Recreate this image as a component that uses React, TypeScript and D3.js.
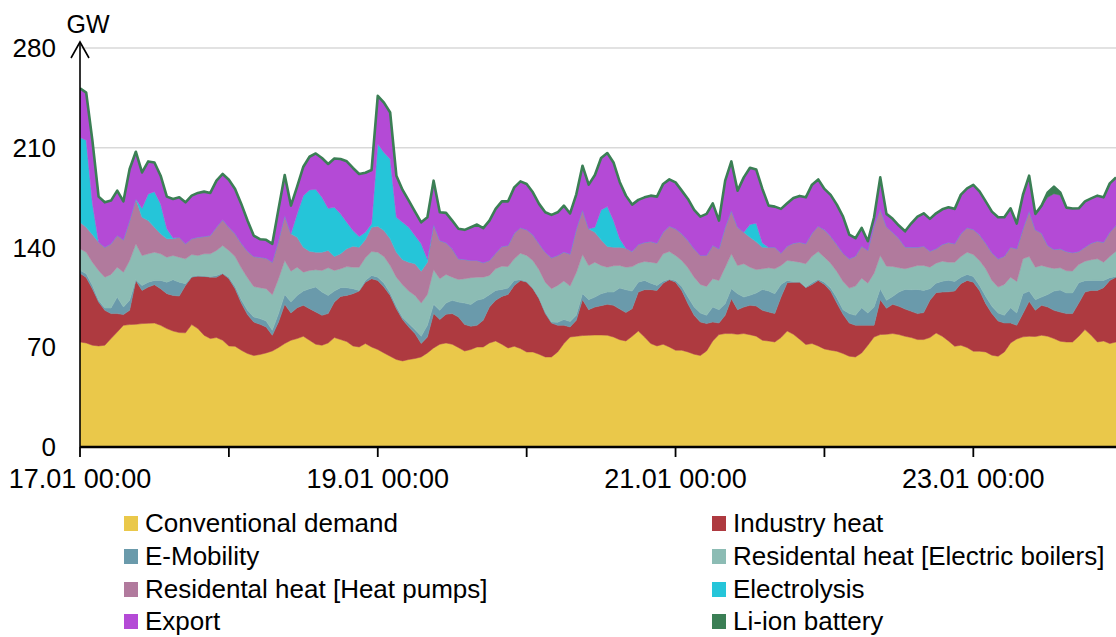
import React from "react";
import * as d3 from "d3";

const seriesNames = [
  "Conventional demand",
  "Industry heat",
  "E-Mobility",
  "Residental heat [Electric boilers]",
  "Residental heat [Heat pumps]",
  "Electrolysis",
  "Export",
  "Li-ion battery",
];
const seriesColors = ["#eac84a", "#ae3a40", "#6a9aab", "#8cbcb4", "#b17a9d", "#25c5d9", "#b44ad6", "#3b7f55"];

// hourly values in GW, 17.01 00:00 .. 23.01 23:00
const conventional = [
  73.7,73,71.4,70.9,71.4,76.1,80.7,85.4,85.9,86.1,
  86.6,86.8,87,85.4,83.1,81.4,80.3,80.1,85.9,83.1,
  78.4,76.1,76.8,74.9,70.9,70.7,67.9,65.6,64.2,64.9,
  66,67.4,69.8,72.6,74.9,76.1,77.7,74.9,72.1,71.4,
  73,76.8,75.4,74,70.9,70.2,72.6,70.2,68.4,66,
  63.7,61.4,60.4,61.4,62.1,63.2,66,69.5,72.1,73,
  72.1,69.8,67.4,68.4,70.2,70.2,73,74.4,72.1,69.5,
  70.7,69.1,66.7,66.7,65.1,63.2,63.2,66.7,72.6,77.2,
  77.7,78.2,78.4,78.6,78.6,78.4,77.2,75.3,74.4,77.7,
  81.4,77.2,72.6,70.9,72.1,70.2,67.9,67.9,66.7,65.1,
  64.2,67.4,74.4,78.9,79.6,79.6,79.1,79.6,78.8,77.8,
  74.9,74.4,73.7,76.8,81.4,79.1,75.6,71.9,72.6,70.9,
  68.8,67.9,67.2,65.6,63.7,63.2,66,71.4,77.2,78.9,
  79.1,79.6,78.9,77.7,76.8,75.4,75.4,76.8,80,77.7,
  74.4,70.7,71.4,69.8,67.2,67.2,66.7,64.4,63.7,66.7,
  73,75.8,77.3,77.7,77.5,78.4,77.7,76.1,74.2,73.7,
  73.7,77.7,82.4,78.4,73.7,74.4,72.6,73.7,
];
const industryHeat = [
  48.3,46,39.6,30.8,24.5,17.5,12.9,7.5,10,30.8,
  23.3,25.4,26.9,25.7,24.5,25,25.6,33.3,33.3,36.8,
  41.3,43.1,42.4,46.7,47.2,40.4,33.1,27.3,23.5,21.2,
  18.2,11,17.9,27.5,19.1,21.7,21.7,22.2,22.6,21,
  20.6,24.9,30.3,32.4,36.7,39.2,43.1,47.9,48.5,46.2,
  42.7,35.7,29,22.8,17.5,9.4,11.2,24.1,17.3,20.1,
  21.5,21.4,18.6,16.3,15.2,18.8,25.2,28.5,33.6,37.6,
  42.7,47.8,49,44.4,39,30.4,23.8,18.7,12.8,7,
  11.2,25.2,18,19.6,20.6,21.7,22.2,21.5,19.9,19.4,
  27.3,33.2,37.8,39,42.9,47.2,47.8,42,33.9,27.3,
  23.5,19.2,13.3,8.1,12.8,24.5,17.3,18.6,20.6,21.2,
  21,20.3,19.9,28.4,33.9,36.6,40.1,39.9,41.5,46,
  45.3,41.5,33.8,27.5,23.3,22.2,19.4,14,8.2,24.5,
  18.2,20.5,19.8,19.1,18.4,18.2,18.9,26.1,28.3,31,
  34.5,38.7,43.2,47.1,48.5,42.7,33.9,29.2,24.7,20.3,
  14,9.6,16.3,24.5,18.4,21,20.5,19.8,20.5,19.9,
  19.9,23.3,26.3,31.5,36.2,37.4,44.3,45.5,
];
const eMobility = [
  2,2.5,2.4,1.2,1.6,3.9,11.6,5.3,7,0.5,
  3.5,3.5,3,5.8,8.1,11,9.8,1.2,0.4,0.5,
  0.3,0.3,1.2,0.4,1.1,1.6,2.4,3,3.5,4,
  4.2,3.5,5.9,7,7.7,8.6,10,14,17.5,16.3,
  12.8,7.7,6.1,5.4,3.5,0.5,1.2,2.3,2.3,2.8,
  1.6,1.6,1.4,2.4,2.8,5.1,8.2,6.5,6.5,7.9,
  9.3,10.5,15,15.3,17.6,15,8.7,7,4.9,4.4,
  3.5,0.5,0.5,0.5,0.5,1.1,0.7,2.1,4.1,3.8,
  3.6,4.2,7,7,8.4,8.6,9.3,14.8,16.1,12.3,
  7,6.5,4.6,3.5,1.4,0.4,1.2,2.8,4.6,5.8,
  6.3,5.8,10.5,9.4,8.2,7,11.2,7,7.1,9,
  14.7,14.7,14,8.9,1.6,0.2,0.3,0.4,1.2,0.9,
  1.6,2.1,3.8,3.3,6.6,7,12.4,8.6,12.8,7.7,
  5.6,5.6,10,13.8,15.2,17,15.6,8.2,6.7,7.7,
  8.2,6.8,4.6,4.2,4,3.5,5.1,5.1,5.6,5.4,
  10.8,8.6,14,7.2,7.5,5.8,8.9,13.5,15.5,14.5,
  14.5,14.3,8,7,7,5.1,1.9,0.4,
];
const electricBoilers = [
  15.1,15.2,16.3,21,21.7,23.6,21,24.5,28,25.2,
  21,19.9,19.8,18.7,17.5,17,17.5,17.5,15.5,14,
  15.6,16.1,17.5,19.4,18.7,21,22.4,22.9,21.5,21.7,
  22.7,25,24.5,23.8,21.7,19.8,13.3,12.8,12.2,15.2,
  19.4,14.5,13.3,14.8,15.1,16.3,15.9,16.8,17.5,18.7,
  19.4,20.5,23.1,22.8,24,23.3,21.7,24.3,22.2,20.1,
  16.3,15.9,17.1,18.8,16.2,15.2,13.5,15.2,16.3,15.1,
  15.2,18.6,18.2,19.3,19.8,21,23.4,25.9,27,25,
  30,27.5,24,24.5,19.8,17.5,18.5,15.8,15.8,17.2,
  13.3,13.3,14.7,15.6,19.2,19.4,17.5,18.2,20.6,21,
  20.1,20.3,19.9,20.5,25.6,24.5,19.8,23.4,19.7,16.5,
  14.5,16.4,17.5,13.3,14,14.5,13.7,16.4,18.6,19.4,
  17.5,17.5,18.4,19.8,17.9,20.5,20.7,21,23.8,23.3,
  24,21,17.1,14.5,15.8,16.8,17.5,15.1,14,14,
  12.6,13.5,14.5,15.6,15.4,17.5,19.4,18.2,18.2,21.7,
  21.4,22.2,24.5,24.3,22.8,22.2,19.1,15.9,15.6,15.6,
  15.4,12.8,13.7,14.5,15.2,12.8,14.9,17.8,
];
const heatPumps = [
  18.6,17.5,19.4,19.8,21,21.5,22.2,22.7,28,31.5,
  26.8,23.3,17.5,14,12.9,11.7,14,10.5,11,12.8,
  12.1,12.8,16.3,18,16.3,15.9,17.2,18.6,21,21.4,
  21.4,22.8,26.8,31.5,26.2,21,17.5,13.5,12.3,12.8,
  12.1,9.8,10.5,12.6,14.7,14,12.6,17,18.2,18.2,
  18.7,17.5,17.5,20.3,22.2,22.4,22.6,31.7,26.8,22.2,
  19.9,14.5,13.5,12.1,11.7,10.1,10.5,10.9,13.8,14.8,
  17.9,17.8,18,18,18.2,21,21.7,21,20.3,22.4,
  30.3,31.3,25.7,21,18,14.5,13,12.8,13.3,10.6,
  13.1,13.3,14.5,14,15.1,17.7,18.7,18.7,19.1,19.9,
  20.3,21.7,23.3,22.2,28,30.3,26.8,22.1,21,19.5,
  15.1,14.4,15.1,8.6,10,12.6,14,14,16.1,17.7,
  19.2,18.9,18.9,19.8,20.6,21,22.4,22.9,33.4,32.7,
  27.7,23.9,20.6,15.3,14,12.8,13.5,11.2,10.1,11.7,
  13.8,12.9,15.9,17.1,17.5,18,17.9,19.4,19.9,19.8,
  21,22.9,20.9,31.7,26.2,22.6,15.2,13.3,13.3,13.5,
  12.9,9.1,9.8,11.6,12.3,14,17,18,
];
const electrolysis = [
  59.5,61,22,0,0,0,0,0,0,0,
  6.3,18.7,25,21,7,0.5,0,0,0,0,
  0,0,0,0,0,0,0,0,0,0,
  0,0,0,0,0,16.4,36.2,43,44.1,38.5,
  29.6,34.5,28,18.6,11,7.5,5.3,2.4,57.7,54.8,
  56,24.5,26.3,24.5,19.8,19.2,2,0,0,0,
  0,0,0,0,0,0,0,0,0,0,
  0,0,0,0,0,0,0,0,0,0,
  0,0,0,3.5,21,28,18.7,6,0,0,
  0,0,0,0,0,0,0,0,0,0,
  0,0,0,0,0,0,0,0,9,13,
  3,0,0,0,0,0,0,0,0,0,
  0,0,0,0,0,0,0,0,0,0,
  0,0,0,0,0,0,0,0,0,0,
  0,0,0,0,0,0,0,0,0,0,
  0,0,0,0,0,0,0,0,0,0,
  0,0,0,0,0,0,0,0,
];
const exportFlow = [
  34.6,33.5,43.9,32,31.5,30.3,31.5,27,36.2,33.1,
  25.2,22.8,20.5,19.8,22.6,27.5,28,29.1,30.3,31.1,
  31.5,29.9,32.7,32.2,33.4,31.5,27.6,21.5,14.7,12.6,
  12.9,12.9,22.2,28.5,19.8,19.1,20.3,23.3,25.2,27.6,
  31.1,34.3,38.5,42.7,43.9,43.9,41.8,37.8,33.8,35,
  32.6,29.2,22.7,18.7,16.8,15.1,29.5,30.8,19.8,21,
  19.8,21,20.8,23.3,25.2,24.3,28,31.1,31.7,31,
  32.2,32.6,32.2,29.8,28,28,30.1,30.3,32.6,28.5,
  24.5,31,31,36.7,36.4,37.6,40.8,39.8,36.9,32.9,
  31.3,31.7,32.2,32.7,33.9,32.9,32.6,30.3,29.2,27.3,
  27.3,29.2,29.6,19.8,32.7,34.5,25.7,38.5,39.8,37.8,
  37.9,29.2,28.5,31.1,30.1,31.8,32.5,32.6,34.1,32.9,
  28.7,29,28,25.7,17,12.6,12.9,6.5,5.8,22.1,
  9,9.5,9,11,16.8,21.5,23.1,22.7,24.9,24.7,
  24.7,24.5,27.5,27.7,31.3,30.5,29.4,28.9,29.1,27.3,
  27.3,17.7,24,25,11.2,18.9,33.8,39.1,37.6,30.8,
  31,30.3,32.2,31.5,32,31.5,34.3,33.8,
];
const liIonBattery = [
  0,0,0,0,0,0,0,0,0,0,
  0,0,0,0,0,0,0,0,0,0,
  0,0,0,0,0,0,0,0,0,0,
  0,0,0,0,0,0,0,0,0,0,
  0,0,0,0,0,0,0,0,0,0,
  0,0,0,0,0,0,0,0,0,0,
  0,0,0,0,0,0,0,0,0,0,
  0,0,0,0,0,0,0,0,0,0,
  0,0,0,0,0,0,0,0,0,0,
  0,0,0,0,0,0,0,0,0,0,
  0,0,0,0,0,0,0,0,0,0,
  0,0,0,0,0,0,0,0,0,0,
  0,0,0,0,0,0,0,0,0,0,
  0,0,0,0,0,0,0,0,0,0,
  0,0,0,0,0,0,0,0,0,0,
  0,0,0,0,0,0.5,3.5,5,2,0,
  0,0,0,0,0,0,0,0,
];

const seriesValues = [conventional, industryHeat, eMobility, electricBoilers, heatPumps, electrolysis, exportFlow, liIonBattery];

const yTickValues = [0, 70, 140, 210, 280];
const dayTickHours = [0, 24, 48, 72, 96, 120, 144];
const xLabelHours = [0, 48, 96, 144];
const xLabels = ["17.01 00:00", "19.01 00:00", "21.01 00:00", "23.01 00:00"];

const FONT = "'Liberation Sans', Arial, Helvetica, sans-serif";

export default function App() {
  const W = 1116;
  const H = 637;
  const left = 80, right = 1116, top = 48, bottom = 447;

  const x = d3.scaleLinear().domain([0, 167]).range([left, right]);
  const y = d3.scaleLinear().domain([0, 280]).range([bottom, top]);

  const keys = seriesNames.map((_, i) => "s" + i);
  const rows = conventional.map((_, h) => {
    const r: any = { h };
    seriesValues.forEach((arr, i) => (r["s" + i] = arr[h] ?? 0));
    return r;
  });
  const stacked = d3.stack<any>().keys(keys)(rows);

  const area = d3
    .area<any>()
    .x((d) => x(d.data.h))
    .y0((d) => y(d[0]))
    .y1((d) => y(d[1]));

  const topLine = d3
    .line<any>()
    .x((d) => x(d.data.h))
    .y((d) => y(d[1]));

  const legendRows = [532, 565, 598, 630];
  const legendCols = [{ sw: 124, tx: 145 }, { sw: 712, tx: 733 }];

  return (
    <div style={{ position: "absolute", left: 0, top: 0 }}>
      <svg width={W} height={H} style={{ display: "block", fontFamily: FONT }}>
        <rect x={0} y={0} width={W} height={H} fill="#ffffff" />
        {yTickValues.map((v) => (
          <line key={"g" + v} x1={left} x2={right} y1={y(v)} y2={y(v)} stroke="#d9d9d9" strokeWidth={1.5} />
        ))}
        <defs>
          <clipPath id="plotClip">
            <rect x={left} y={0} width={right - left} height={bottom} />
          </clipPath>
        </defs>
        <g clipPath="url(#plotClip)">
          {stacked.map((layer, i) => (
            <path key={keys[i]} d={area(layer) || ""} fill={seriesColors[i]} stroke={seriesColors[i]} strokeWidth={0.5} />
          ))}
          <path d={topLine(stacked[stacked.length - 1]) || ""} fill="none" stroke="#3b7f55" strokeWidth={2.6} strokeLinejoin="round" />
        </g>
        {/* y axis */}
        <line x1={left} x2={left} y1={bottom} y2={42} stroke="#000" strokeWidth={1.6} />
        <path d={`M${left - 9},${58} L${left},${42} L${left + 9},${58}`} fill="none" stroke="#000" strokeWidth={1.6} />
        <text x={88} y={33} fontSize={25} textAnchor="middle" fill="#000">GW</text>
        {yTickValues.map((v) => (
          <text key={"yl" + v} x={56} y={y(v)} dy="0.35em" fontSize={26} textAnchor="end" fill="#000">
            {v}
          </text>
        ))}
        {/* x axis */}
        <line x1={left} x2={right} y1={bottom} y2={bottom} stroke="#000" strokeWidth={2.6} />
        {dayTickHours.map((h) => (
          <line key={"xt" + h} x1={x(h)} x2={x(h)} y1={bottom} y2={457} stroke="#000" strokeWidth={1.8} />
        ))}
        {xLabelHours.map((h, i) => (
          <text key={"xl" + h} x={x(h)} y={488} fontSize={27} textAnchor="middle" fill="#000">
            {xLabels[i]}
          </text>
        ))}
        {/* legend */}
        {seriesNames.map((name, i) => {
          const col = legendCols[i % 2];
          const by = legendRows[Math.floor(i / 2)];
          return (
            <g key={"lg" + i}>
              <rect x={col.sw} y={by - 16} width={14} height={15} fill={seriesColors[i]} />
              <text x={col.tx} y={by} fontSize={26} fill="#000">
                {name}
              </text>
            </g>
          );
        })}
      </svg>
    </div>
  );
}
